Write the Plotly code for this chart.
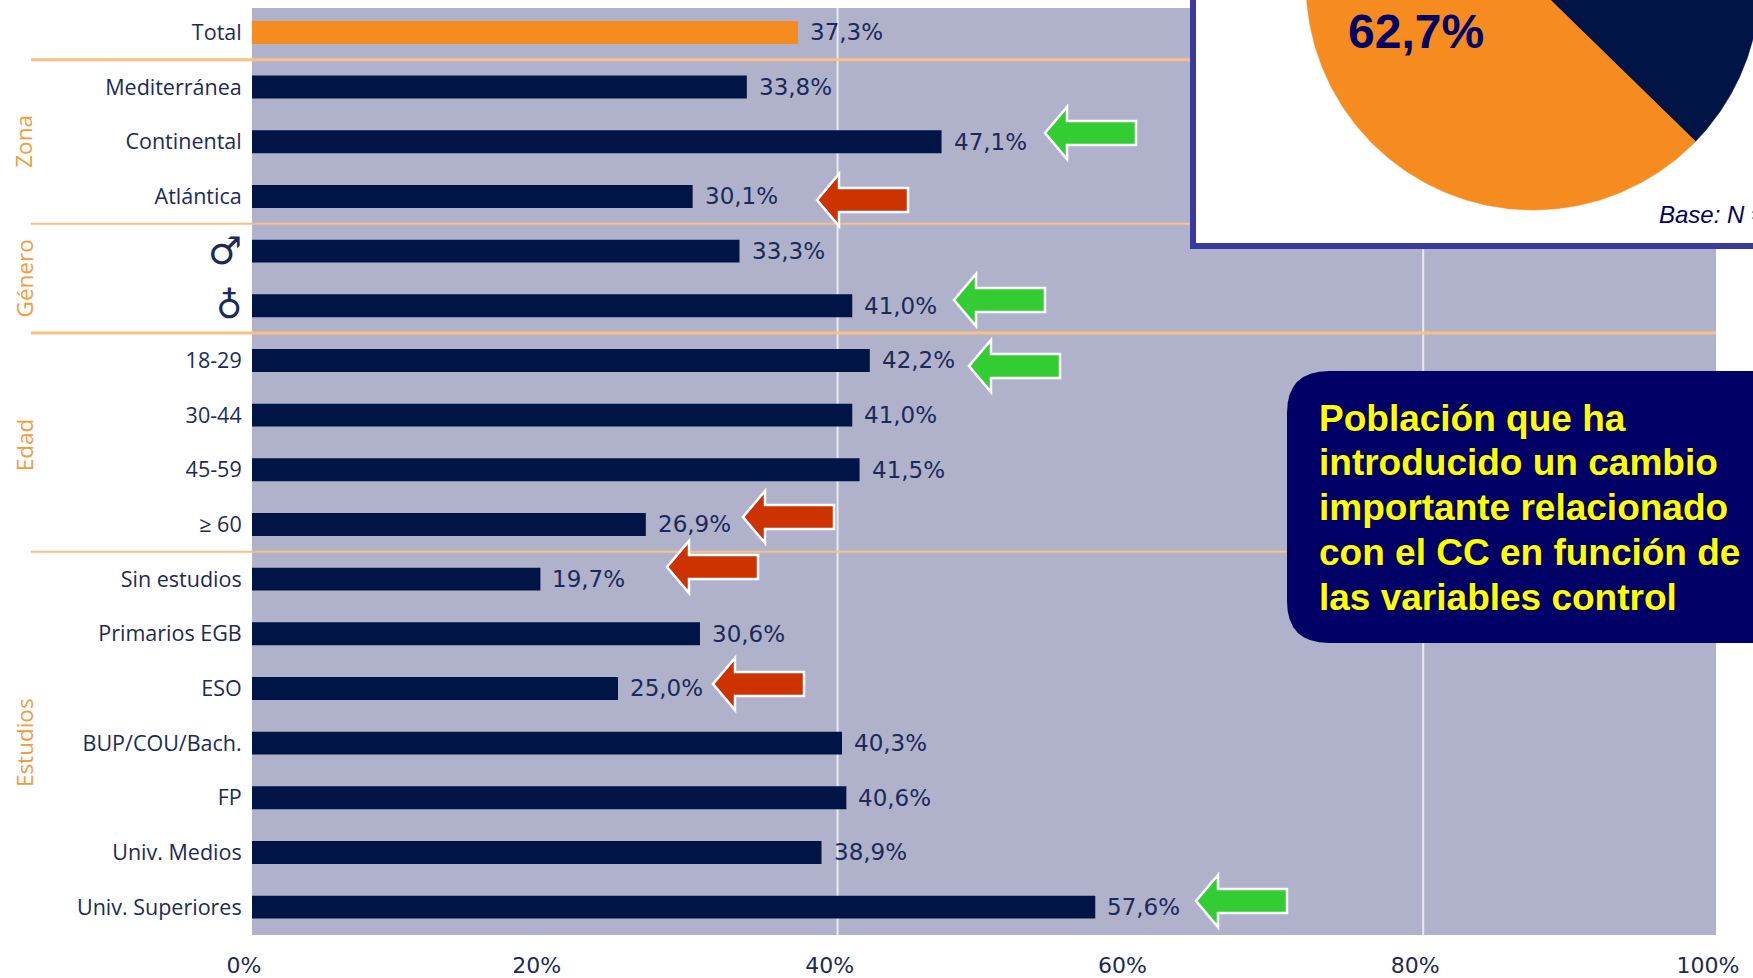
import numpy as np
import plotly.graph_objects as go

W, H = 1753, 978

categories = ["Total", "Mediterránea", "Continental", "Atlántica", "Hombre", "Mujer",
              "18-29", "30-44", "45-59", "≥ 60", "Sin estudios", "Primarios EGB", "ESO",
              "BUP/COU/Bach.", "FP", "Univ. Medios", "Univ. Superiores"]
tick_labels = ["Total", "Mediterránea", "Continental", "Atlántica", " ", " ",
               "18-29", "30-44", "45-59", "≥ 60", "Sin estudios", "Primarios EGB", "ESO",
               "BUP/COU/Bach.", "FP", "Univ. Medios", "Univ. Superiores"]
gender_symbols = ["♂", "♁"]
gender_categories = ["Hombre", "Mujer"]
values = [37.3, 33.8, 47.1, 30.1, 33.3, 41.0, 42.2, 41.0, 41.5, 26.9, 19.7, 30.6, 25.0,
          40.3, 40.6, 38.9, 57.6]
value_labels = ["37,3%", "33,8%", "47,1%", "30,1%", "33,3%", "41,0%", "42,2%", "41,0%", "41,5%",
                "26,9%", "19,7%", "30,6%", "25,0%", "40,3%", "40,6%", "38,9%", "57,6%"]
x_ticks = [0, 20, 40, 60, 80, 100]
x_tick_labels = ["0%", "20%", "40%", "60%", "80%", "100%"]

pie_values = [37.3, 62.7]
pie_colors = ["#001446", "#F68B1F"]

groups = ["Zona", "Género", "Edad", "Estudios"]
group_centres = [2, 4.5, 7.55, 13]
separators = [0.5, 3.5, 5.5, 9.5]
separator_widths = [3, 2, 3, 2]

# arrow tip x, y in page pixels, colour
arrows = [(1045, 133, "#33CC33"), (817, 200, "#CC3300"), (954, 300, "#33CC33"),
          (969, 366, "#33CC33"), (743, 517, "#CC3300"), (667, 567, "#CC3300"),
          (713, 684, "#CC3300"), (1196, 901, "#33CC33")]

callout_lines = ["Población que ha", "introducido un cambio", "importante relacionado",
                 "con el CC en función de", "las variables control"]

NAVY = "#1A2A5A"
ORANGE = "#F68B1F"
FONT = "Open Sans"
VFONT = "DejaVu Sans"

fig = go.Figure()

fig.add_trace(go.Bar(x=values, y=categories, orientation="h", width=0.42,
                     marker=dict(color=[ORANGE] + ["#001446"] * 16, line_width=0),
                     hoverinfo="skip"))

# inset box and pie on a second full-page subplot with page-pixel axes
bx0, by0, bx1, by1 = 1193, -10, 1770, 246
fig.add_trace(go.Scatter(x=[bx0, bx1, bx1, bx0, bx0], y=[by0, by0, by1, by1, by0],
                         xaxis="x2", yaxis="y2", mode="lines", fill="toself",
                         fillcolor="white", line=dict(color="#3A3A9E", width=6),
                         hoverinfo="skip"))
cx, cy, r = 1533, -17, 227
fractions = np.cumsum([0] + pie_values) / sum(pie_values) * 2 * np.pi
for i, col in enumerate(pie_colors):
    th = np.linspace(fractions[i], fractions[i + 1], 240)
    px = np.r_[cx, cx + r * np.sin(th), cx]
    py = np.r_[cy, cy - r * np.cos(th), cy]
    fig.add_trace(go.Scatter(x=px, y=py, xaxis="x2", yaxis="y2", mode="lines", fill="toself",
                             fillcolor=col, line=dict(color=col, width=0.5), hoverinfo="skip"))

shapes = [dict(type="rect", xref="paper", yref="paper", x0=252 / W, x1=1716 / W,
               y0=1 - 935 / H, y1=1 - 8 / H, layer="below", fillcolor="#B0B2CB", line_width=0)]
for gx in (40, 80):
    shapes.append(dict(type="line", xref="x", yref="paper", x0=gx, x1=gx, y0=1 - 935 / H, y1=1 - 8 / H,
                       layer="below", line=dict(color="#E9E9F1", width=2)))
for s, w in zip(separators, separator_widths):
    shapes.append(dict(type="line", xref="paper", yref="y", x0=31 / W, x1=1716 / W, y0=s, y1=s,
                       layer="below", line=dict(color="#FBBF84", width=w)))
for tx, ty, col in arrows:
    xs = [tx, tx + 22, tx + 22, tx + 91, tx + 91, tx + 22, tx + 22]
    ys = [ty, ty - 26, ty - 12, ty - 12, ty + 12, ty + 12, ty + 26]
    path = "M " + " L ".join(f"{a} {b}" for a, b in zip(xs, ys)) + " Z"
    shapes.append(dict(type="path", xref="x2", yref="y2", path=path, fillcolor=col,
                       line=dict(color="white", width=2.5), layer="above"))
# callout
x0, y0, x1, y1, rad = 1287, 371, 1780, 643, 42
shapes.append(dict(type="path", xref="x2", yref="y2", fillcolor="#000066", line_width=0, layer="above",
                   path=f"M {x0+rad} {y0} L {x1} {y0} L {x1} {y1} L {x0+rad} {y1} "
                        f"Q {x0} {y1} {x0} {y1-rad} L {x0} {y0+rad} Q {x0} {y0} {x0+rad} {y0} Z"))

ann = []
for c, t in zip(categories, value_labels):
    v = values[categories.index(c)]
    ann.append(dict(x=v, y=c, xref="x", yref="y", text=t, showarrow=False, xanchor="left",
                    xshift=10, yshift=0, font=dict(family=VFONT, size=23, color=NAVY)))
for g, c in zip(groups, group_centres):
    ann.append(dict(x=24 / W, y=c, xref="paper", yref="y", text=g, textangle=-90, showarrow=False,
                    xanchor="center", font=dict(family=FONT, size=22.5, color="#F79A3C")))
for s, c, sz in zip(gender_symbols, gender_categories, [38, 36]):
    ann.append(dict(x=0, y=c, xref="x", yref="y", text=s, showarrow=False, xanchor="right",
                    xshift=-8, yshift=0, font=dict(family=VFONT, size=sz, color=NAVY)))
for i, line in enumerate(callout_lines):
    ann.append(dict(x=1317, y=418 + i * 44.8, xref="x2", yref="y2", text=line, showarrow=False,
                    xanchor="left", yanchor="middle",
                    font=dict(family="Liberation Sans", size=37, color="#FFFF00", weight="bold")))
ann.append(dict(x=1416, y=31, xref="x2", yref="y2", text="62,7%", showarrow=False,
                font=dict(family="Liberation Sans", size=48, color="#000066", weight="bold")))
ann.append(dict(x=1657, y=214, xref="x2", yref="y2", text="<i>Base: N = </i>", showarrow=False, xanchor="left",
                font=dict(family="Liberation Sans", size=24, color="#000066")))

fig.update_layout(
    width=W, height=H, margin=dict(l=0, r=0, t=0, b=0, autoexpand=False), paper_bgcolor="white",
    plot_bgcolor="rgba(0,0,0,0)", showlegend=False, shapes=shapes, annotations=ann,
    xaxis=dict(domain=[252 / W, 1716 / W], range=[0, 100], tickvals=x_ticks, ticktext=x_tick_labels,
               showgrid=False, zeroline=False, showline=False, ticks="outside", ticklen=11,
               tickcolor="rgba(0,0,0,0)", ticklabelshift=-8, anchor="y",
               tickfont=dict(family=VFONT, size=22, color=NAVY)),
    yaxis=dict(domain=[1 - 935 / H, 1 - 8 / H], range=[16.51, -0.447], type="category",
               categoryorder="array", categoryarray=categories, tickvals=categories, ticktext=tick_labels,
               showgrid=False, zeroline=False, showline=False, ticks="outside", ticklen=5,
               tickcolor="rgba(0,0,0,0)", anchor="x", tickfont=dict(family=FONT, size=21.5, color=NAVY)),
    xaxis2=dict(domain=[0, 1], range=[0, W], anchor="y2", visible=False),
    yaxis2=dict(domain=[0, 1], range=[H, 0], anchor="x2", visible=False),
)
fig.write_html("out.html", config=dict(displayModeBar=False),
               post_script="document.body.style.margin='0';document.documentElement.style.overflow='hidden';")
